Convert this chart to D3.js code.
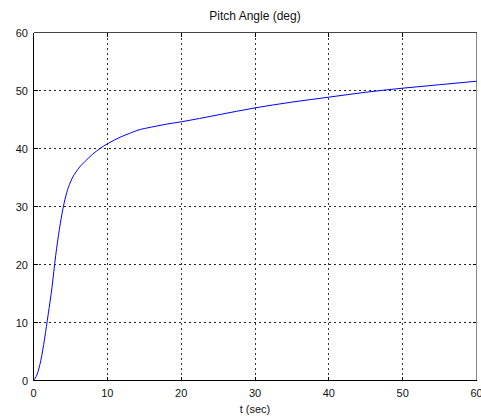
<!DOCTYPE html>
<html><head><meta charset="utf-8">
<script src="https://cdn.jsdelivr.net/npm/d3@7"></script>
<style>body{margin:0;background:#fff}svg{display:block}text{font-family:"Liberation Sans",Arial,sans-serif}</style>
</head><body><svg id="c" width="481" height="416"></svg>
<script>
const title = "Pitch Angle (deg)";
const xLabel = "t (sec)";
const xTicks = [0, 10, 20, 30, 40, 50, 60];
const yTicks = [0, 10, 20, 30, 40, 50, 60];
const tValues = [0, 0.5, 1, 1.5, 2, 2.5, 3, 3.5, 4, 4.5, 5, 6, 7, 8, 9, 10, 11, 12, 13, 14, 16, 18, 20, 25, 30, 35, 40, 45, 50, 55, 60];
const pitchValues = [0, 1.1, 3.5, 7.2, 11.5, 16, 21.5, 26, 29.7, 32.4, 34.2, 36.4, 37.8, 39, 40, 40.8, 41.5, 42.1, 42.6, 43.1, 43.7, 44.2, 44.6, 45.8, 47.0, 48.0, 48.85, 49.7, 50.4, 51.0, 51.6];

const svg = d3.select("#c");
const L = 33.5, R = 476.5, T = 32.5, B = 380.5;
const x = d3.scaleLinear().domain([0, 60]).range([L, R]);
const y = d3.scaleLinear().domain([0, 60]).range([B, T]);
const snap = v => Math.round(v - 0.5) + 0.5;

// grid
const g = svg.append("g");
xTicks.slice(1, -1).forEach(t => {
  g.append("line").attr("x1", snap(x(t))).attr("x2", snap(x(t))).attr("y1", T).attr("y2", B)
    .attr("stroke", "#333").attr("stroke-dasharray", "2,3").attr("shape-rendering", "crispEdges");
});
yTicks.slice(1, -1).forEach(t => {
  g.append("line").attr("y1", snap(y(t))).attr("y2", snap(y(t))).attr("x1", L).attr("x2", R)
    .attr("stroke", "#222").attr("stroke-dasharray", "2,3").attr("shape-rendering", "crispEdges");
});

// ticks (inside)
const tk = 4;
xTicks.forEach(t => {
  const xx = snap(x(t));
  g.append("line").attr("x1", xx).attr("x2", xx).attr("y1", B).attr("y2", B - tk).attr("stroke", "#000").attr("shape-rendering", "crispEdges");
  g.append("line").attr("x1", xx).attr("x2", xx).attr("y1", T).attr("y2", T + tk).attr("stroke", "#000").attr("shape-rendering", "crispEdges");
});
yTicks.forEach(t => {
  const yy = snap(y(t));
  g.append("line").attr("y1", yy).attr("y2", yy).attr("x1", L).attr("x2", L + tk).attr("stroke", "#000").attr("shape-rendering", "crispEdges");
  g.append("line").attr("y1", yy).attr("y2", yy).attr("x1", R).attr("x2", R - tk).attr("stroke", "#000").attr("shape-rendering", "crispEdges");
});

// box
svg.append("line").attr("x1", L).attr("x2", R).attr("y1", T).attr("y2", T).attr("stroke", "#444").attr("shape-rendering", "crispEdges");
svg.append("line").attr("x1", R).attr("x2", R).attr("y1", T).attr("y2", B).attr("stroke", "#888").attr("shape-rendering", "crispEdges");
svg.append("line").attr("x1", L).attr("x2", L).attr("y1", T).attr("y2", B).attr("stroke", "#000").attr("shape-rendering", "crispEdges");
svg.append("line").attr("x1", L).attr("x2", R).attr("y1", B).attr("y2", B).attr("stroke", "#000").attr("shape-rendering", "crispEdges");

// curve
const data = tValues.map((t, i) => [t, pitchValues[i]]);
svg.append("path").datum(data)
  .attr("d", d3.line().x(d => x(d[0])).y(d => y(d[1])).curve(d3.curveMonotoneX))
  .attr("fill", "none").attr("stroke", "#0000ff").attr("stroke-width", 1);

// tick labels
xTicks.forEach(t => {
  svg.append("text").attr("x", x(t)).attr("y", 397).attr("text-anchor", "middle")
    .attr("font-size", 11).attr("fill", "#111").text(t);
});
yTicks.forEach(t => {
  svg.append("text").attr("x", 28).attr("y", y(t) + 4).attr("text-anchor", "end")
    .attr("font-size", 11).attr("fill", "#111").text(t);
});

svg.append("text").attr("x", (L + R) / 2).attr("y", 412.5).attr("text-anchor", "middle")
  .attr("font-size", 11).attr("fill", "#111").text(xLabel);
svg.append("text").attr("x", (L + R) / 2).attr("y", 20).attr("text-anchor", "middle")
  .attr("font-size", 12).attr("fill", "#111").text(title);
</script></body></html>
